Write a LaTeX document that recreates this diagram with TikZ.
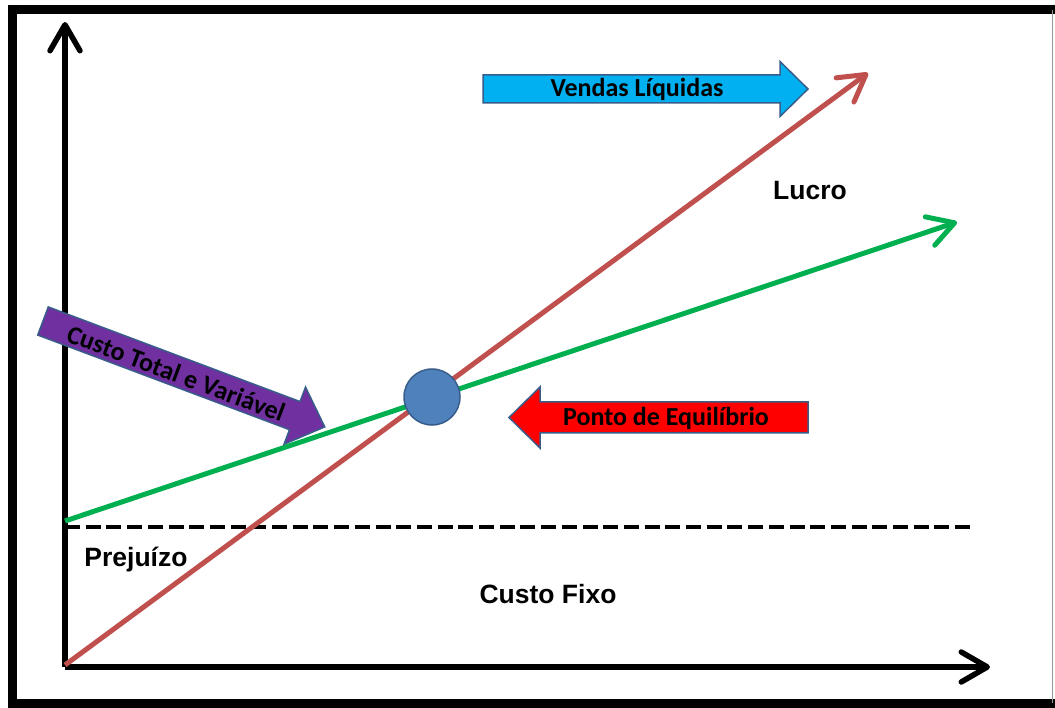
\documentclass[tikz,border=0pt]{standalone}
\usepackage{fontspec}
\setmainfont{Liberation Sans}
\newfontfamily\calibrifont{Carlito}
\usetikzlibrary{arrows.meta}
\definecolor{redline}{RGB}{192,80,77}
\definecolor{greenline}{RGB}{0,176,80}
\definecolor{ballfill}{RGB}{79,129,189}
\definecolor{ballborder}{RGB}{56,93,138}
\definecolor{blockblue}{RGB}{0,176,240}
\definecolor{blockpurple}{RGB}{112,48,160}
\definecolor{blockred}{RGB}{255,0,0}
\definecolor{rightedge}{RGB}{150,150,150}
\tikzset{
  barb/.style={-{Straight Barb[length=26pt,width=30pt,round]}},
  axisline/.style={line width=5.5pt,black,barb},
  graphline/.style={line width=5pt,barb},
  arialtext/.style={font=\fontsize{26.5}{30}\selectfont\bfseries,text=black,inner sep=0pt},
  calibritext/.style={font=\calibrifont\fontsize{26}{30}\selectfont\bfseries,text=black,inner sep=0pt},
  blockarrow/.style={draw=ballborder,line width=1.5pt,line join=miter}
}
\begin{document}
\begin{tikzpicture}[x=1pt,y=-1pt]
\useasboundingbox (0,0) rectangle (1055,708);
% frame
\draw[line width=9pt,line join=miter] (1055,10) -- (12,10) -- (12,703) -- (1055,703);
\draw[rightedge,line width=1pt] (1052,10) -- (1052,703);
% coordinates
\coordinate (O) at (65,667);
\coordinate (Ytip) at (65,22);
\coordinate (Xtip) at (990,667);
\coordinate (Rstart) at (65,665);
\coordinate (Rtip) at (868,73);
\coordinate (Gstart) at (65,521);
\coordinate (Gtip) at (957,222);
\coordinate (Dstart) at (65,527);
\coordinate (Dend) at (973,527);
% dashed fixed cost line
\draw[line width=4pt,dash pattern=on 15pt off 5.7pt] (Dstart) -- (Dend);
% axes
\draw[axisline] (O) -- (Ytip);
\draw[axisline] (O) -- (Xtip);
% lines
\draw[graphline,greenline] (Gstart) -- (Gtip);
\draw[graphline,redline] (Rstart) -- (Rtip);
% equilibrium ball
\node[circle,fill=ballfill,draw=ballborder,line width=1.5pt,minimum size=56pt,inner sep=0pt] (ball) at (432,397) {};
% blue arrow: Vendas Liquidas
\begin{scope}[shift={(483,89)}]
\draw[blockarrow,fill=blockblue] (0,-14) -- (297,-14) -- (297,-27.5) -- (325,0) -- (297,27.5) -- (297,14) -- (0,14) -- cycle;
\end{scope}
\node[calibritext] (vendas) at (637,89) {Vendas Líquidas};
% red arrow: Ponto de Equilibrio
\begin{scope}[shift={(808,417.5)},rotate=180]
\draw[blockarrow,fill=blockred] (0,-15.5) -- (268,-15.5) -- (268,-30.5) -- (299,0) -- (268,30.5) -- (268,15.5) -- (0,15.5) -- cycle;
\end{scope}
\node[calibritext] (ponto) at (666,418) {Ponto de Equilíbrio};
% purple arrow: Custo Total e Variavel
\begin{scope}[shift={(43,321)},rotate=-20.6]
\draw[blockarrow,fill=blockpurple] (0,-15) -- (269,-15) -- (269,-30.5) -- (301,0) -- (269,30.5) -- (269,15) -- (0,15) -- cycle;
\coordinate (ctc) at (143,2);
\end{scope}
\node[calibritext,rotate=-20.6] (custototal) at (ctc) {Custo Total e Variável};
% texts
\node[arialtext] (lucro) at (810,191) {Lucro};
\node[arialtext] (prejuizo) at (136,560) {Prejuízo};
\node[arialtext] (custofixo) at (548,594) {Custo Fixo};
\end{tikzpicture}
\end{document}
